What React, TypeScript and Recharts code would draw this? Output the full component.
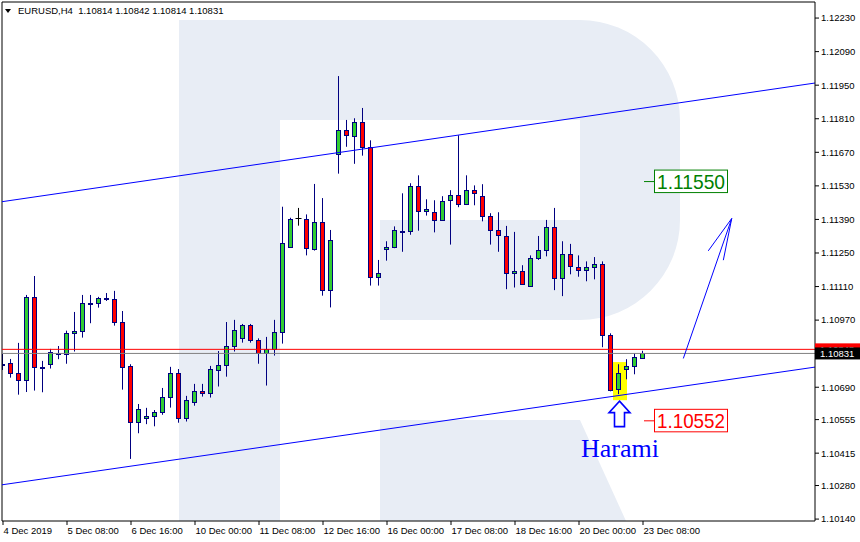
import React from "react";
import {
  ComposedChart,
  Bar,
  XAxis,
  YAxis,
  ReferenceLine,
  ReferenceArea,
  ReferenceDot,
} from "recharts";

// EURUSD H4 candles, 4 Dec 2019 00:00 .. 23 Dec 2019 08:00
const opens = [
  1.10788, 1.1079, 1.10748, 1.10719, 1.11065, 1.10773, 1.10786, 1.10834, 1.10828, 1.10915,
  1.10924, 1.11042, 1.1104, 1.11063, 1.11057, 1.10961, 1.10778, 1.10544, 1.10561, 1.10569,
  1.10586, 1.10648, 1.10748, 1.10561, 1.10627, 1.10673, 1.10665, 1.10761, 1.10782, 1.10861,
  1.10894, 1.10949, 1.10886, 1.10832, 1.10849, 1.10919, 1.11274, 1.11395, 1.11391, 1.11265,
  1.11378, 1.11095, 1.11662, 1.11762, 1.11737, 1.11795, 1.11691, 1.11149, 1.11265, 1.11274,
  1.11343, 1.11341, 1.11528, 1.11424, 1.1142, 1.11386, 1.1147, 1.11491, 1.11453, 1.11512,
  1.11487, 1.11403, 1.11345, 1.1132, 1.11165, 1.11174, 1.11111, 1.11228, 1.11261, 1.11357,
  1.11145, 1.11245, 1.1119, 1.11178, 1.1119, 1.11203, 1.10907, 1.10682, 1.10765, 1.10778,
  1.10814,
];
const highs = [
  1.10833, 1.10808, 1.10875, 1.11075, 1.11154, 1.108, 1.1085, 1.10862, 1.10926, 1.11004,
  1.11075, 1.11075, 1.11067, 1.11083, 1.11092, 1.11008, 1.10786, 1.1062, 1.10604, 1.10595,
  1.10687, 1.10775, 1.10766, 1.10654, 1.10704, 1.10704, 1.10779, 1.10841, 1.10962, 1.10971,
  1.10954, 1.10954, 1.10894, 1.109, 1.10971, 1.11443, 1.11397, 1.11438, 1.11411, 1.11538,
  1.11479, 1.11346, 1.11988, 1.11805, 1.11812, 1.11855, 1.1172, 1.11221, 1.11299, 1.11361,
  1.11499, 1.11541, 1.11574, 1.11474, 1.1147, 1.11487, 1.11512, 1.11741, 1.11574, 1.11532,
  1.11537, 1.11416, 1.1142, 1.11363, 1.11338, 1.11199, 1.1124, 1.11321, 1.11388, 1.11438,
  1.11299, 1.11288, 1.1124, 1.11215, 1.11233, 1.11215, 1.10915, 1.10786, 1.10807, 1.10832,
  1.10842,
];
const lows = [
  1.10762, 1.1073, 1.10659, 1.1067, 1.10676, 1.10669, 1.10768, 1.10807, 1.10788, 1.10839,
  1.10897, 1.10957, 1.11022, 1.1105, 1.10947, 1.1068, 1.10391, 1.10498, 1.10536, 1.10527,
  1.10575, 1.10605, 1.10542, 1.10547, 1.10613, 1.10651, 1.10647, 1.10693, 1.10734, 1.10839,
  1.10876, 1.10876, 1.10788, 1.10697, 1.10822, 1.10872, 1.11272, 1.11364, 1.1124, 1.1126,
  1.11072, 1.11023, 1.11581, 1.11693, 1.11622, 1.11656, 1.11114, 1.11114, 1.11218, 1.1127,
  1.11255, 1.11326, 1.11343, 1.11406, 1.11336, 1.11384, 1.11285, 1.11441, 1.1145, 1.11449,
  1.11382, 1.11285, 1.11255, 1.11099, 1.11106, 1.11118, 1.11109, 1.11221, 1.11236, 1.11095,
  1.1107, 1.11161, 1.11151, 1.11132, 1.1114, 1.10857, 1.10673, 1.10661, 1.10723, 1.10744,
  1.10814,
];
const closes = [
  1.10784, 1.10748, 1.10719, 1.11065, 1.10773, 1.1077, 1.10836, 1.10828, 1.10915, 1.10924,
  1.1104, 1.11038, 1.11061, 1.11059, 1.10961, 1.10776, 1.10544, 1.10598, 1.1057, 1.10586,
  1.10648, 1.10748, 1.10561, 1.10636, 1.10673, 1.10665, 1.10765, 1.10782, 1.10861, 1.10928,
  1.10949, 1.10886, 1.10832, 1.10849, 1.10919, 1.11291, 1.11391, 1.11395, 1.1127, 1.11378,
  1.11095, 1.11303, 1.11762, 1.11741, 1.11795, 1.11691, 1.11149, 1.11165, 1.11274, 1.11345,
  1.11341, 1.11528, 1.11424, 1.11432, 1.11386, 1.11466, 1.11491, 1.11453, 1.11512, 1.11499,
  1.11403, 1.11345, 1.11324, 1.11165, 1.11174, 1.11122, 1.11228, 1.11261, 1.11357, 1.11145,
  1.11245, 1.11195, 1.11178, 1.1119, 1.11203, 1.10907, 1.10678, 1.10748, 1.10778, 1.10815,
  1.10831,
];

const dateTicks = [0, 8, 16, 24, 32, 40, 48, 56, 64, 72, 80];
const dateLabels = [
  "4 Dec 2019",
  "5 Dec 08:00",
  "6 Dec 16:00",
  "10 Dec 00:00",
  "11 Dec 08:00",
  "12 Dec 16:00",
  "16 Dec 00:00",
  "17 Dec 08:00",
  "18 Dec 16:00",
  "20 Dec 00:00",
  "23 Dec 08:00",
];
const priceTicks = [
  1.1014, 1.1028, 1.10415, 1.10555, 1.1069, 1.1097, 1.1111, 1.1125, 1.1139, 1.1153,
  1.1167, 1.1181, 1.1195, 1.1209, 1.1223,
];

// channel lines and forecast arrow, as [bar index, price]
const upperChannel = [
  { x: -0.125, y: 1.11464 },
  { x: 101.5, y: 1.11959 },
];
const lowerChannel = [
  { x: -0.125, y: 1.10283 },
  { x: 101.5, y: 1.10774 },
];
const forecastShaft = [
  { x: 85.04, y: 1.1081 },
  { x: 91.09, y: 1.11394 },
];
const forecastBarbs = [
  { x: 88.16, y: 1.11259 },
  { x: 90.04, y: 1.1122 },
];

const targetPrice = 1.1155;
const stopPrice = 1.10552;
const bidPrice = 1.10831;
const askPrice = 1.10848;
const haramiBar = 77;
const haramiZone = { x1: 76.25, x2: 78, y1: 1.10636, y2: 1.10795 };
const haramiArrowTop = 1.10632;

const xDomain = [-0.125, 101.5];
const yDomain = [1.10132, 1.12297];

const data = opens.map((open, i) => ({
  idx: i,
  open,
  high: highs[i],
  low: lows[i],
  close: closes[i],
}));

const FONT = "'Liberation Sans', Arial, sans-serif";
const BULL = "#32cd32";
const BEAR = "#ff0000";
const EDGE = "#000080";

function Candle(props: any) {
  const { x, y, width, height, payload } = props;
  if (!payload || height == null) return null;
  const { open, close, high, low } = payload;
  const top = Math.min(y, y + height);
  const h = Math.abs(height);
  const perUnit = high === low ? 0 : h / (high - low);
  const col = Math.floor(x + width / 2);
  const bodyTop = Math.round(top + (high - Math.max(open, close)) * perUnit) + 0.5;
  const bodyBot = Math.round(top + (high - Math.min(open, close)) * perUnit) + 0.5;
  if (open === close) {
    return (
      <g>
        <line x1={col + 0.5} x2={col + 0.5} y1={top} y2={top + h} stroke="#000" />
        <line x1={col - 2.5} x2={col + 3.5} y1={bodyTop} y2={bodyTop} stroke="#000" />
      </g>
    );
  }
  return (
    <g>
      <line x1={col + 0.5} x2={col + 0.5} y1={top} y2={top + h} stroke={EDGE} />
      <rect
        x={col - 1.5}
        y={bodyTop}
        width={4}
        height={Math.max(bodyBot - bodyTop, 1)}
        fill={close > open ? BULL : BEAR}
        stroke={EDGE}
        strokeWidth={1}
      />
    </g>
  );
}

function DateTick(props: any) {
  const { x, y, payload } = props;
  const label = dateLabels[dateTicks.indexOf(payload.value)];
  return (
    <text x={x + 0.5} y={y + 6.5} fontSize={9.5} fontFamily={FONT} fill="#000">
      {label}
    </text>
  );
}

function PriceTag(props: any) {
  const { cx, cy, color, value } = props;
  return (
    <g>
      <line x1={cx} x2={cx + 10} y1={cy + 0.5} y2={cy + 0.5} stroke={color} />
      <rect x={cx + 10.5} y={cy - 11} width={73} height={22.5} fill="#fff" stroke={color} />
      <text
        x={cx + 13}
        y={cy + 7.5}
        fontSize={21}
        fontFamily={FONT}
        fill={color}
        textLength={68}
        lengthAdjust="spacingAndGlyphs"
      >
        {value.toFixed(5)}
      </text>
    </g>
  );
}

function AxisTag(props: any) {
  const { cx, cy, bg, value } = props;
  return (
    <g>
      <rect x={cx} y={cy - 6} width={45} height={12} fill={bg} />
      <text x={cx + 5} y={cy + 3.5} fontSize={9.5} fontFamily={FONT} fill="#fff">
        {value.toFixed(5)}
      </text>
    </g>
  );
}

function HaramiMark(props: any) {
  const { cx, cy } = props;
  const c = Math.floor(cx) + 0.5;
  const pts = [
    [c, cy],
    [c + 10.5, cy + 11.5],
    [c + 5, cy + 11.5],
    [c + 5, cy + 25.5],
    [c - 5, cy + 25.5],
    [c - 5, cy + 11.5],
    [c - 10.5, cy + 11.5],
  ]
    .map((p) => p.join(","))
    .join(" ");
  return (
    <g>
      <polygon points={pts} fill="#fff" stroke="#0000ff" strokeWidth={1.6} />
      <text
        x={c + 0.5}
        y={cy + 55.5}
        textAnchor="middle"
        fontSize={26}
        fontFamily="'Liberation Serif', 'Times New Roman', serif"
        fill="#0000ff"
      >
        Harami
      </text>
    </g>
  );
}

// faint logo drawn behind the price area
function Watermark() {
  return (
    <svg
      width={860}
      height={542}
      style={{ position: "absolute", left: 0, top: 0 }}
    >
      <g fill="#e8edf5">
        <rect x={179} y={20} width={101} height={501} />
        <path d="M280,20 H580 A100,100 0 0 1 680,120 V220 A100,100 0 0 1 580,320 H380 V220 H580 V120 H280 Z" />
        <path d="M380,420 H580 L626,521 H380 Z" />
      </g>
    </svg>
  );
}

export default function App() {
  const last = data[data.length - 1];
  const title = `EURUSD,H4  ${last.open.toFixed(5)} ${last.high.toFixed(5)} ${last.low.toFixed(
    5
  )} ${last.close.toFixed(5)}`;

  return (
    <div style={{ position: "relative", width: 860, height: 542, background: "#fff" }}>
      <style>{"body{margin:0}"}</style>
      <Watermark />
      <div style={{ position: "absolute", left: 0, top: 0 }}>
        <ComposedChart
          width={860}
          height={542}
          data={data}
          margin={{ top: 2, right: 0, bottom: 0, left: 2 }}
        >
          <XAxis
            dataKey="idx"
            type="number"
            domain={xDomain}
            allowDataOverflow
            ticks={dateTicks}
            interval={0}
            height={21}
            tickSize={4}
            tickMargin={2}
            stroke="#000"
            tick={<DateTick />}
          />
          <YAxis
            orientation="right"
            type="number"
            domain={yDomain}
            allowDataOverflow
            ticks={priceTicks}
            interval={0}
            width={45}
            tickSize={4}
            tickMargin={2}
            stroke="#000"
            tick={{ fill: "#000", fontSize: 9.5, fontFamily: FONT }}
            tickFormatter={(v: number) => v.toFixed(5)}
          />
          <ReferenceLine x={xDomain[0]} stroke="#000" />
          <ReferenceLine y={yDomain[1]} stroke="#000" />
          <ReferenceArea
            x1={haramiZone.x1}
            x2={haramiZone.x2}
            y1={haramiZone.y1}
            y2={haramiZone.y2}
            fill="#ffff00"
            fillOpacity={1}
            stroke="none"
          />
          <ReferenceLine y={bidPrice} stroke="#808080" />
          <ReferenceLine y={askPrice} stroke="#ff0000" />
          <Bar
            dataKey={(d: any) => [d.low, d.high]}
            barSize={5}
            isAnimationActive={false}
            shape={<Candle />}
          />
          <ReferenceLine segment={upperChannel} stroke="#0000ff" />
          <ReferenceLine segment={lowerChannel} stroke="#0000ff" />
          <ReferenceLine segment={forecastShaft} stroke="#0000ff" />
          <ReferenceLine segment={[forecastShaft[1], forecastBarbs[0]]} stroke="#0000ff" />
          <ReferenceLine segment={[forecastShaft[1], forecastBarbs[1]]} stroke="#0000ff" />
          <ReferenceDot
            x={80.125}
            y={targetPrice}
            shape={(p: any) => <PriceTag {...p} color="#008000" value={targetPrice} />}
          />
          <ReferenceDot
            x={80.125}
            y={stopPrice}
            shape={(p: any) => <PriceTag {...p} color="#ff0000" value={stopPrice} />}
          />
          <ReferenceDot
            x={haramiBar}
            y={haramiArrowTop}
            shape={(p: any) => <HaramiMark {...p} />}
          />
          <ReferenceDot
            x={xDomain[1]}
            y={askPrice}
            shape={(p: any) => <AxisTag {...p} bg="#ff0000" value={askPrice} />}
          />
          <ReferenceDot
            x={xDomain[1]}
            y={bidPrice}
            shape={(p: any) => <AxisTag {...p} bg="#000" value={bidPrice} />}
          />
        </ComposedChart>
      </div>
      <svg
        width={860}
        height={20}
        style={{ position: "absolute", left: 0, top: 0, pointerEvents: "none" }}
      >
        <polygon points="5,9 11,9 8,13" fill="#000" />
        <text x={18} y={14} fontSize={9.5} fontFamily={FONT} fill="#000" style={{ whiteSpace: "pre" }}>
          {title}
        </text>
      </svg>
    </div>
  );
}
